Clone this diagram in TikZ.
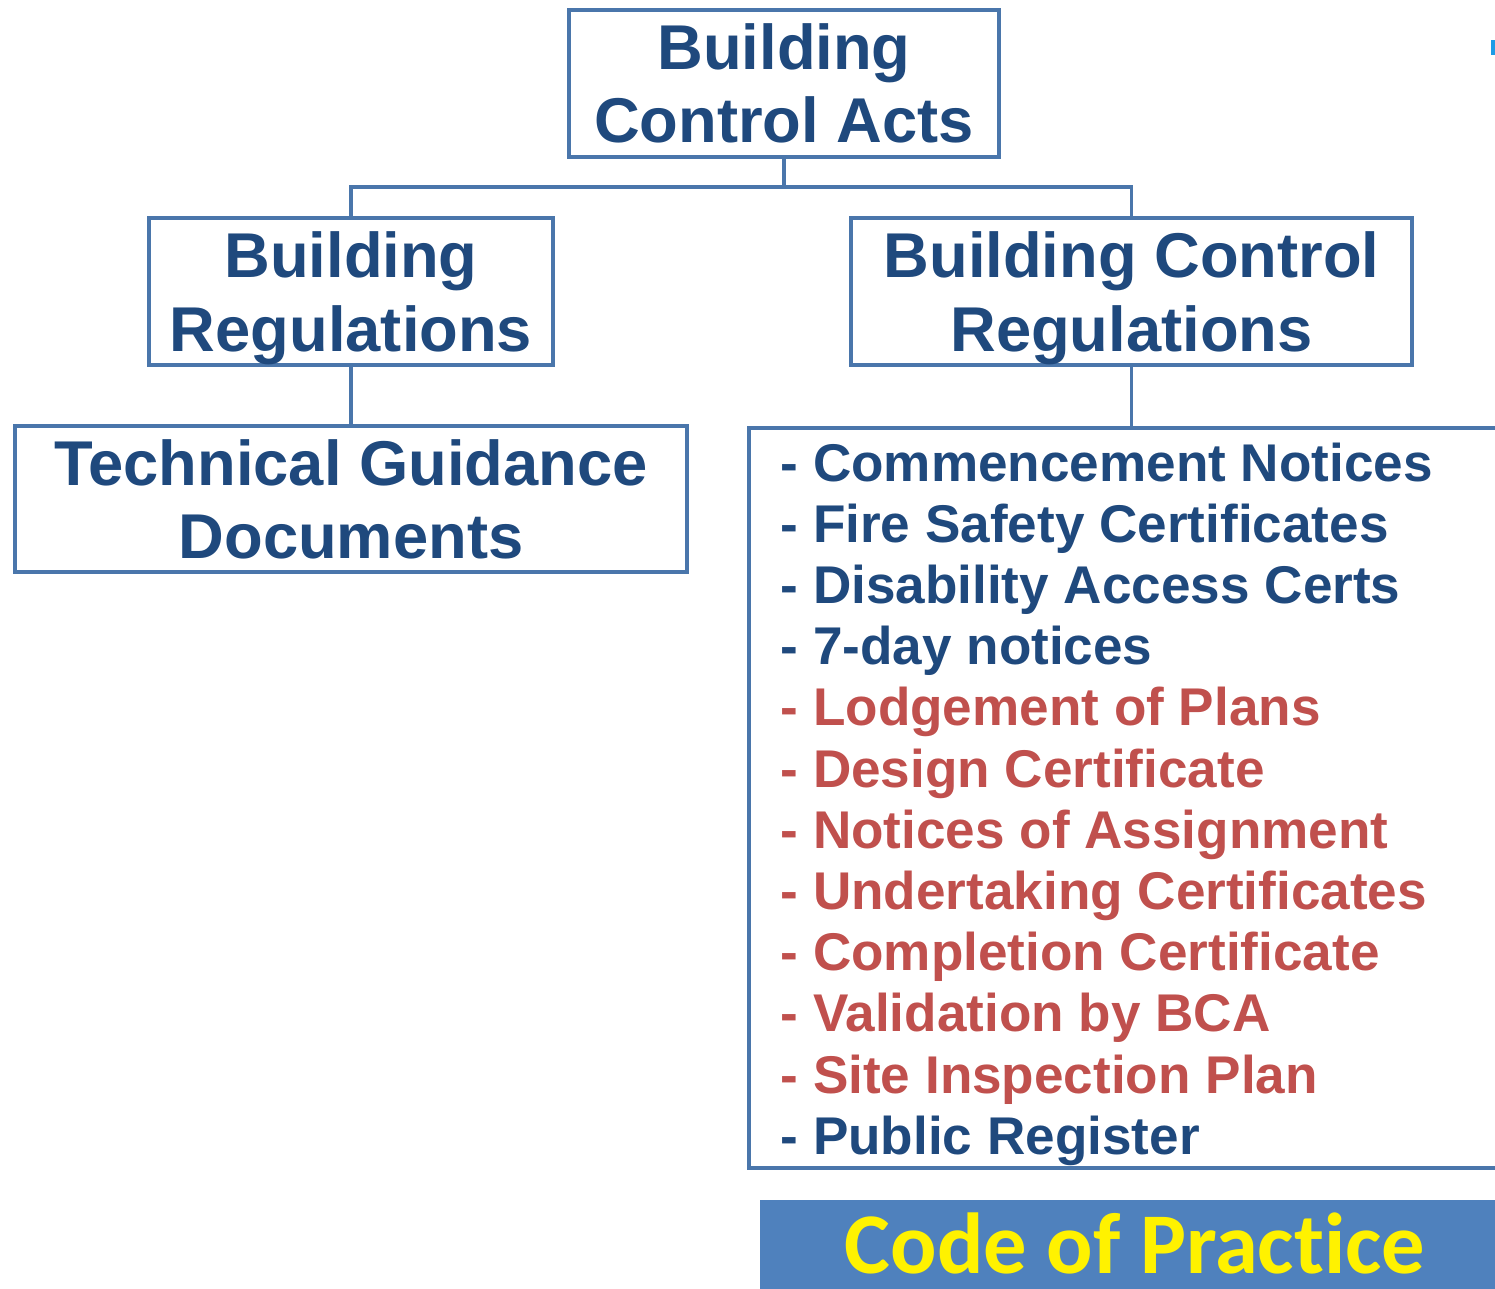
\documentclass[tikz,border=0pt]{standalone}
\usepackage{fontspec}
\setmainfont{Liberation Sans}
\newfontfamily\copfont[Ligatures=NoCommon]{Carlito}
\definecolor{boxline}{RGB}{74,118,171}
\definecolor{boxtext}{RGB}{31,73,125}
\definecolor{redtext}{RGB}{192,80,77}
\definecolor{copfill}{RGB}{79,129,189}
\definecolor{edgemark}{RGB}{30,155,230}

\begin{document}
\begin{tikzpicture}[x=.01cm, y=-.01cm,
  box/.style={draw=boxline, line width=1.1pt, inner sep=0pt, align=center, text=boxtext,
    font=\bfseries\fontsize{18}{20.8}\selectfont},
  link/.style={draw=boxline, line width=1.1pt}]
\useasboundingbox (0,0) rectangle (1495,1289);
\node [box, minimum width=4.3cm, minimum height=1.47cm] (acts) at (784,83.5) {Building\\Control Acts};
\node [box, minimum width=4.04cm, minimum height=1.47cm, text depth=0pt] (breg) at (351,291.5) {Building\\Regulations};
\node [box, minimum width=5.61cm, minimum height=1.47cm, text depth=0pt] (bcreg) at (1131.5,291.5) {Building Control\\Regulations};
\node [box, minimum width=6.72cm, minimum height=1.46cm] (tgd) at (351,499) {Technical Guidance\\Documents};
\node [box, minimum width=7.63cm, minimum height=7.4cm, anchor=north west] (lst) at (747,426) {};
\node [anchor=north west, inner sep=0pt, align=left, text=boxtext,
  font=\bfseries\fontsize{15.1}{17.4}\selectfont] (items) at (780,442) {%
  - Commencement Notices\\
  - Fire Safety Certificates\\
  - Disability Access Certs\\
  - 7-day notices\\
  \textcolor{redtext}{- Lodgement of Plans}\\
  \textcolor{redtext}{- Design Certificate}\\
  \textcolor{redtext}{- Notices of Assignment}\\
  \textcolor{redtext}{- Undertaking Certificates}\\
  \textcolor{redtext}{- Completion Certificate}\\
  \textcolor{redtext}{- Validation by BCA}\\
  \textcolor{redtext}{- Site Inspection Plan}\\
  - Public Register};
\fill [copfill] (760,1200) rectangle (1495,1289);
\node [inner sep=0pt, text=yellow, font=\copfont\bfseries\fontsize{24.6}{28}\selectfont] (cop) at (1135,1243) {Code of Practice};
% connectors
\coordinate (fork) at (784,187);
\draw [link] (acts.south) -- (fork);
\draw [link] (breg.north) |- (fork) -| (bcreg.north);
\draw [link] (breg.south) -- (tgd.north);
\draw [link] (bcreg.south) -- (bcreg.south |- lst.north);
\fill [edgemark] (1491,40) rectangle (1495,55);
\end{tikzpicture}
\end{document}
